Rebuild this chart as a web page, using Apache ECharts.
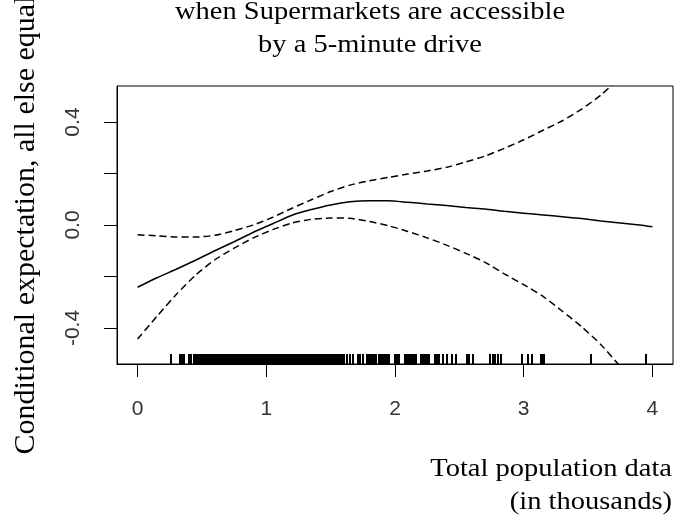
<!DOCTYPE html>
<html>
<head>
<meta charset="utf-8">
<script src="https://cdn.jsdelivr.net/npm/echarts@6/dist/echarts.min.js"></script>
<style>html,body{margin:0;padding:0;background:#fff;}#c{width:691px;height:525px;}</style>
</head>
<body>
<div id="c"></div>
<script>
// Population (thousands) grid where curves were read
var popX = [0, 0.15, 0.3, 0.45, 0.6, 0.75, 0.9, 1.05, 1.2, 1.35, 1.5, 1.65, 1.8, 1.95, 2.1, 2.25, 2.4, 2.55, 2.7, 2.85, 3.0, 3.15, 3.3, 3.45, 3.6, 3.75, 3.9, 4.0];
// Fitted conditional expectation
var fitY = [-0.242, -0.205, -0.172, -0.137, -0.100, -0.065, -0.028, 0.005, 0.038, 0.060, 0.078, 0.090, 0.094, 0.094, 0.088, 0.082, 0.076, 0.068, 0.062, 0.053, 0.046, 0.039, 0.032, 0.025, 0.016, 0.008, 0.000, -0.007];
// Upper confidence band
var upperY = [-0.038, -0.042, -0.047, -0.047, -0.040, -0.022, 0.000, 0.030, 0.065, 0.098, 0.130, 0.155, 0.172, 0.185, 0.198, 0.210, 0.224, 0.245, 0.268, 0.298, 0.331, 0.368, 0.405, 0.450, 0.505, 0.575, 0.650, 0.710];
// Lower confidence band
var lowerY = [-0.443, -0.355, -0.270, -0.195, -0.135, -0.090, -0.050, -0.018, 0.008, 0.022, 0.027, 0.026, 0.014, -0.003, -0.025, -0.050, -0.078, -0.110, -0.145, -0.190, -0.232, -0.277, -0.335, -0.395, -0.465, -0.550, -0.640, -0.700];
// Observed population values (rug)
var rugX = [0.26, 0.33, 0.345, 0.36, 0.40, 0.415,
  0.44, 0.45, 0.46, 0.47, 0.48, 0.49, 0.50, 0.51, 0.52, 0.53, 0.54, 0.55, 0.56, 0.57, 0.58, 0.59,
  0.60, 0.61, 0.62, 0.63, 0.64, 0.65, 0.66, 0.67, 0.68, 0.69, 0.70, 0.71, 0.72, 0.73, 0.74, 0.75,
  0.76, 0.77, 0.78, 0.79, 0.80, 0.81, 0.82, 0.83, 0.84, 0.85, 0.86, 0.87, 0.88, 0.89, 0.90, 0.91,
  0.92, 0.93, 0.94, 0.95, 0.96, 0.97, 0.98, 0.99, 1.00, 1.01, 1.02, 1.03, 1.04, 1.05, 1.06, 1.07,
  1.08, 1.09, 1.10, 1.11, 1.12, 1.13, 1.14, 1.15, 1.16, 1.17, 1.18, 1.19, 1.20, 1.21, 1.22, 1.23,
  1.24, 1.25, 1.26, 1.27, 1.28, 1.29, 1.30, 1.31, 1.32, 1.33, 1.34, 1.35, 1.36, 1.37, 1.38, 1.39,
  1.40, 1.41, 1.42, 1.43, 1.44, 1.45, 1.46, 1.47, 1.48, 1.49, 1.50, 1.51, 1.52, 1.53, 1.54, 1.55,
  1.56, 1.57, 1.58, 1.59, 1.60,
  1.625, 1.65, 1.675, 1.71, 1.725, 1.755, 1.78, 1.79, 1.80, 1.81, 1.82, 1.83, 1.84, 1.85,
  1.875, 1.885, 1.895, 1.905, 1.915, 1.925, 1.935, 1.945, 1.955, 1.997, 2.014, 2.032,
  2.08, 2.09, 2.10, 2.11, 2.12, 2.13, 2.14, 2.15, 2.165, 2.20, 2.21, 2.22, 2.23, 2.24, 2.25, 2.265,
  2.313, 2.328, 2.342, 2.376, 2.405, 2.443, 2.471, 2.557, 2.572, 2.606,
  2.739, 2.759, 2.779, 2.802, 2.825, 2.983, 3.032, 3.066, 3.135, 3.145, 3.155, 3.52, 3.951];
var xTicks = [0, 1, 2, 3, 4];
var yTicks = [-0.4, -0.2, 0, 0.2, 0.4];
var yLabels = [-0.4, 0, 0.4];
var titleLines = ['when Supermarkets are accessible', 'by a 5-minute drive'];
var xTitleLines = ['Total population data', '(in thousands)'];
var yTitle = 'Conditional expectation, all else equal';

var X_MIN = -0.16, X_MAX = 4.16, Y_MIN = -0.54, Y_MAX = 0.54;

function pairs(xs, ys) { return xs.map(function (x, i) { return [x, ys[i]]; }); }

var chart = echarts.init(document.getElementById('c'), null, {renderer: 'canvas'});
var serif = '"Liberation Serif","Times New Roman",serif';
var sans = '"Liberation Sans",Arial,sans-serif';

chart.setOption({
  animation: false,
  backgroundColor: '#fff',
  grid: {left: 117, top: 86, width: 556, height: 278, show: true, borderColor: '#000', borderWidth: 1, backgroundColor: 'transparent'},
  xAxis: {
    type: 'value', min: X_MIN, max: X_MAX,
    axisLine: {show: true, onZero: false, lineStyle: {color: '#000', width: 1}},
    axisTick: {show: true, customValues: xTicks, length: 13, lineStyle: {color: '#000', width: 1}},
    axisLabel: {customValues: xTicks, margin: 35, fontSize: 21, color: '#333', fontFamily: sans,
      formatter: function (v) { return String(v); }},
    splitLine: {show: false}
  },
  yAxis: {
    type: 'value', min: Y_MIN, max: Y_MAX,
    axisLine: {show: true, onZero: false, lineStyle: {color: '#000', width: 1}},
    axisTick: {show: true, customValues: yTicks, length: 13, lineStyle: {color: '#000', width: 1}},
    axisLabel: {customValues: yLabels, rotate: 90, margin: 33, fontSize: 21, color: '#333', fontFamily: sans,
      formatter: function (v) { return (+v).toFixed(1); }},
    splitLine: {show: false}
  },
  series: [
    {type: 'line', data: pairs(popX, fitY), showSymbol: false, smooth: 0.2, clip: true,
      lineStyle: {color: '#000', width: 1.5}},
    {type: 'line', data: pairs(popX, upperY), showSymbol: false, smooth: 0.2, clip: true,
      lineStyle: {color: '#000', width: 1.5, type: [7, 4]}},
    {type: 'line', data: pairs(popX, lowerY), showSymbol: false, smooth: 0.2, clip: true,
      lineStyle: {color: '#000', width: 1.5, type: [7, 4]}},
    {type: 'custom', silent: true, clip: false,
      data: rugX.map(function (x) { return [x, Y_MIN]; }),
      renderItem: function (params, api) {
        var p = api.coord([api.value(0), api.value(1)]);
        var x0 = Math.round(p[0]) - 1;
        return {type: 'rect', shape: {x: x0, y: Math.round(p[1]) - 10, width: 2, height: 10},
          style: {fill: '#000', stroke: null}};
      }}
  ],
  graphic: [
    {type: 'text', x: 370, y: 12, scaleX: 1.14, style: {text: titleLines[0], font: '25px ' + serif, fill: '#000', align: 'center', verticalAlign: 'middle'}},
    {type: 'text', x: 370, y: 45, scaleX: 1.14, style: {text: titleLines[1], font: '25px ' + serif, fill: '#000', align: 'center', verticalAlign: 'middle'}},
    {type: 'text', x: 672, y: 469, scaleX: 1.14, style: {text: xTitleLines[0], font: '25px ' + serif, fill: '#000', align: 'right', verticalAlign: 'middle'}},
    {type: 'text', x: 672, y: 502, scaleX: 1.14, style: {text: xTitleLines[1], font: '25px ' + serif, fill: '#000', align: 'right', verticalAlign: 'middle'}},
    {type: 'text', x: 26, y: 225, rotation: Math.PI / 2, style: {text: yTitle, font: '30px ' + serif, fill: '#000', align: 'center', verticalAlign: 'middle'}}
  ]
});
</script>
</body>
</html>
